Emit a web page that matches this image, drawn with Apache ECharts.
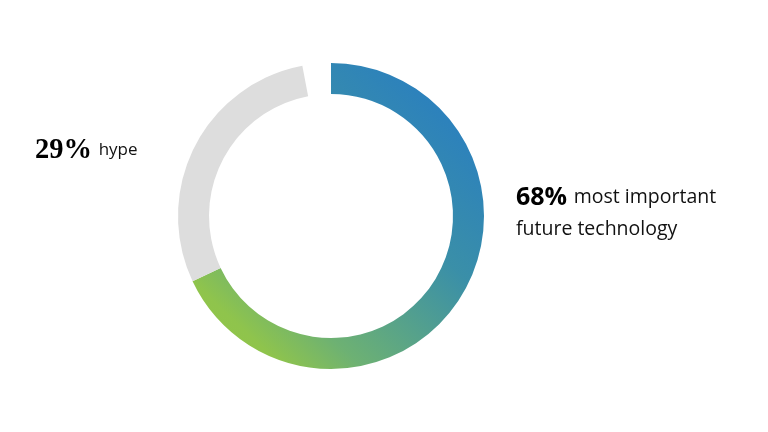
<!DOCTYPE html>
<html>
<head>
<meta charset="utf-8">
<script src="https://cdn.jsdelivr.net/npm/echarts@6/dist/echarts.min.js"></script>
<style>
  html, body { margin: 0; padding: 0; background: #fff; }
  #chart { width: 768px; height: 432px; }
</style>
</head>
<body>
<div id="chart"></div>
<script>
// data
var names = ['most important future technology', 'hype', 'other'];
var values = [68, 29, 3];

var chart = echarts.init(document.getElementById('chart'));

// blue (top right) -> green (bottom left)
var ringGradient = new echarts.graphic.LinearGradient(1, 0, 0, 1, [
  { offset: 0, color: '#2479c8' },
  { offset: 0.4, color: '#3a8fa8' },
  { offset: 0.72, color: '#6db173' },
  { offset: 0.85, color: '#8fc44c' },
  { offset: 1, color: '#94c747' }
]);
var colorList = [ringGradient, '#dddddd', 'rgba(0,0,0,0)'];

var option = {
  backgroundColor: '#fff',
  animation: false,
  series: [
    {
      type: 'pie',
      center: [331, 216],
      radius: [122, 153],
      startAngle: 90,
      clockwise: true,
      silent: true,
      label: { show: false },
      labelLine: { show: false },
      itemStyle: {
        color: function (params) {
          return colorList[params.dataIndex];
        }
      },
      data: values.map(function (v, i) {
        return { name: names[i], value: v };
      })
    }
  ],
  graphic: [
    {
      type: 'text',
      left: 516,
      top: 185,
      style: {
        text: '{big|' + values[0] + '%}  {small|most important}\n{small|future technology}',
        rich: {
          big: { fontFamily: 'Open Sans', fontWeight: 'bold', fontSize: 25, fill: '#000', lineHeight: 32 },
          small: { fontFamily: 'Open Sans', fontSize: 19.5, fill: '#111', lineHeight: 32 }
        }
      }
    },
    {
      type: 'text',
      left: 35,
      top: 136,
      style: {
        text: '{big|' + values[1] + '%}  {small|' + names[1] + '}',
        rich: {
          big: { fontFamily: 'Liberation Serif', fontWeight: 'bold', fontSize: 28.5, fill: '#000' },
          small: { fontFamily: 'Open Sans', fontSize: 17, fill: '#111' }
        }
      }
    }
  ]
};

chart.setOption(option);
</script>
</body>
</html>
